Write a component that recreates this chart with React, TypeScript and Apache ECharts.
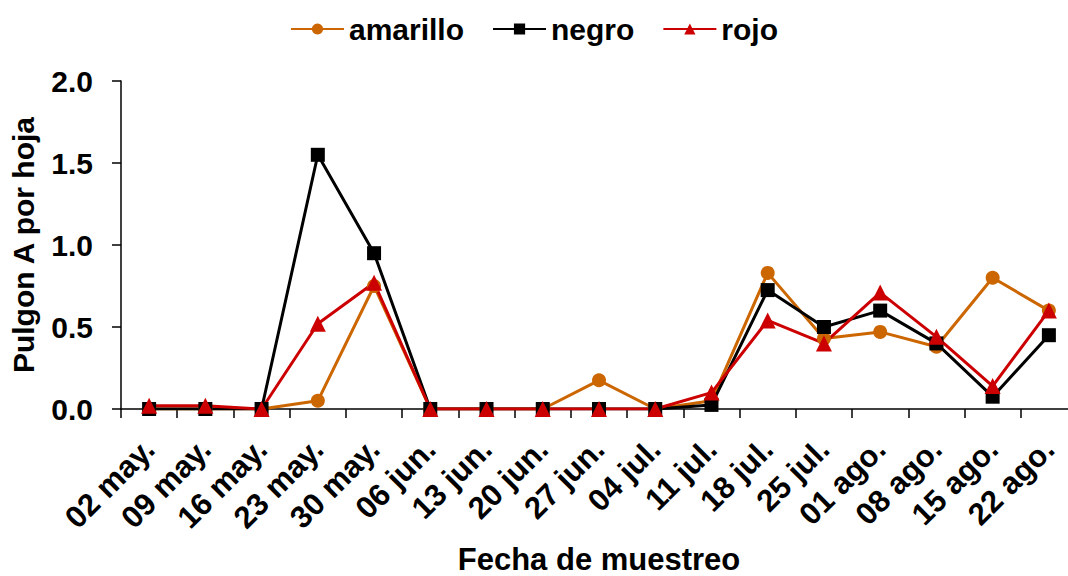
import React, { useEffect, useRef } from "react";
import * as echarts from "echarts";

// Sampling dates (x-axis categories)
const fechas = [
  "02 may.", "09 may.", "16 may.", "23 may.", "30 may.", "06 jun.",
  "13 jun.", "20 jun.", "27 jun.", "04 jul.", "11 jul.", "18 jul.",
  "25 jul.", "01 ago.", "08 ago.", "15 ago.", "22 ago.",
];

// Aphids per leaf, one list per trap colour
const amarillo = [0, 0, 0, 0.05, 0.75, 0, 0, 0, 0.175, 0, 0.05, 0.83, 0.43, 0.47, 0.38, 0.8, 0.6];
const negro = [0, 0, 0, 1.55, 0.95, 0, 0, 0, 0, 0, 0.025, 0.725, 0.5, 0.6, 0.4, 0.075, 0.45];
const rojo = [0.02, 0.02, 0, 0.52, 0.77, 0, 0, 0, 0, 0, 0.1, 0.54, 0.4, 0.71, 0.44, 0.14, 0.6];

// Y-axis ticks
const yTicks = { min: 0, max: 2, interval: 0.5 };

const FONT = "'Liberation Sans', Arial, sans-serif";

export default function App() {
  const ref = useRef<HTMLDivElement>(null);

  useEffect(() => {
    if (!ref.current) return;
    const chart = echarts.init(ref.current, undefined, { renderer: "svg" });

    const mk = (name: string, data: number[], color: string, symbol: string, size: number) => ({
      name,
      type: "line",
      data,
      symbol,
      symbolSize: size,
      showAllSymbol: true,
      lineStyle: { color, width: 3 },
      itemStyle: { color, borderWidth: 0 },
    });

    chart.setOption({
      animation: false,
      backgroundColor: "#ffffff",
      textStyle: { fontFamily: FONT },
      legend: {
        top: 9,
        left: "center",
        itemWidth: 53,
        itemHeight: 14,
        itemGap: 28,
        textStyle: { fontFamily: FONT, fontSize: 30, fontWeight: "bold", color: "#000" },
        data: ["amarillo", "negro", "rojo"],
      },
      grid: {
        left: 121,
        right: -9,
        top: 81,
        bottom: 167,
        containLabel: false,
        outerBoundsMode: "none",
      },
      xAxis: {
        type: "category",
        data: fechas,
        boundaryGap: true,
        name: "Fecha de muestreo",
        nameLocation: "middle",
        nameGap: 135,
        nameTextStyle: { fontFamily: FONT, fontSize: 31, fontWeight: "bold", color: "#000" },
        axisLine: { lineStyle: { color: "#000", width: 1.5 } },
        axisTick: { show: true, length: 9, inside: false, lineStyle: { color: "#000", width: 1.5 } },
        axisLabel: {
          interval: 0,
          rotate: 45,
          margin: 35,
          fontFamily: FONT,
          fontSize: 31,
          fontWeight: "bold",
          color: "#000",
        },
        splitLine: { show: false },
      },
      yAxis: {
        type: "value",
        min: yTicks.min,
        max: yTicks.max,
        interval: yTicks.interval,
        name: "Pulgon A por hoja",
        nameLocation: "middle",
        nameGap: 83,
        nameTextStyle: { fontFamily: FONT, fontSize: 30, fontWeight: "bold", color: "#000" },
        axisLine: { show: true, lineStyle: { color: "#000", width: 1.5 } },
        axisTick: { show: true, length: 9, inside: false, lineStyle: { color: "#000", width: 1.5 } },
        axisLabel: {
          margin: 28,
          fontFamily: FONT,
          fontSize: 30,
          fontWeight: "bold",
          color: "#000",
          formatter: (v: number) => v.toFixed(1),
        },
        splitLine: { show: false },
      },
      series: [
        mk("amarillo", amarillo, "#CC6600", "circle", 14),
        mk("negro", negro, "#000000", "rect", 14),
        mk("rojo", rojo, "#CC0000", "triangle", 16),
      ],
    });

    return () => chart.dispose();
  }, []);

  return (
    <div
      ref={ref}
      style={{ position: "fixed", left: 0, top: 0, width: 1068, height: 576, background: "#fff" }}
    />
  );
}
